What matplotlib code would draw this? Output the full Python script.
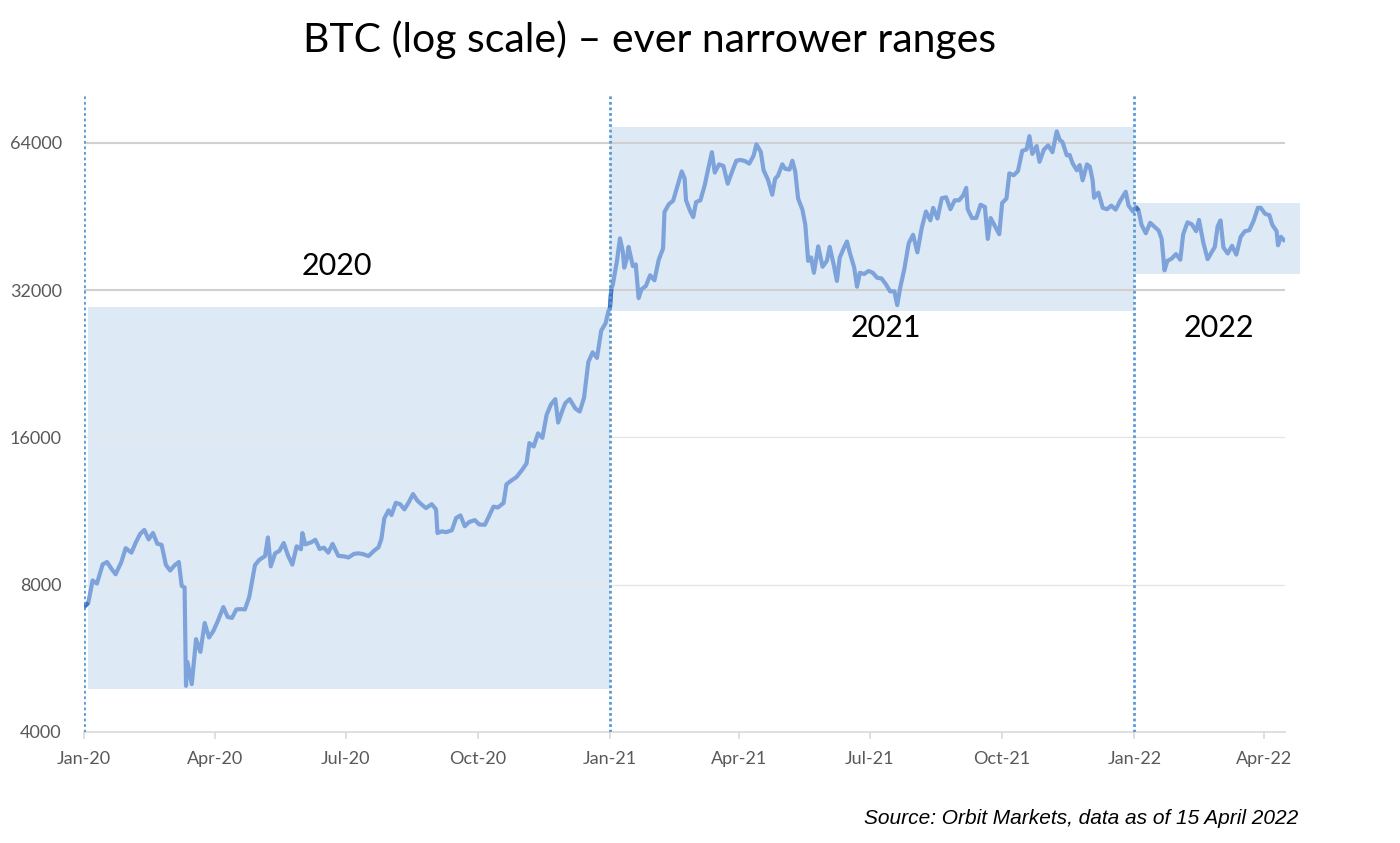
import matplotlib
matplotlib.use("Agg")
import matplotlib.pyplot as plt
import matplotlib.dates as mdates
from matplotlib.patches import Rectangle
from matplotlib.ticker import FixedLocator, FixedFormatter
import numpy as np
import pandas as pd

plt.rcParams['font.family'] = ['Lato', 'DejaVu Sans']

# BTC close (approx.)
dates_2020 = ["2020-01-01", "2020-01-04", "2020-01-07", "2020-01-10", "2020-01-14", "2020-01-17",
              "2020-01-20", "2020-01-23", "2020-01-27", "2020-01-30", "2020-02-03", "2020-02-06",
              "2020-02-09", "2020-02-12", "2020-02-15", "2020-02-18", "2020-02-21", "2020-02-24",
              "2020-02-27", "2020-03-01", "2020-03-04", "2020-03-07", "2020-03-09", "2020-03-11",
              "2020-03-12", "2020-03-13", "2020-03-16", "2020-03-19", "2020-03-22", "2020-03-25",
              "2020-03-28", "2020-03-31", "2020-04-03", "2020-04-07", "2020-04-10", "2020-04-13",
              "2020-04-16", "2020-04-19", "2020-04-22", "2020-04-25", "2020-04-29", "2020-05-02",
              "2020-05-06", "2020-05-08", "2020-05-10", "2020-05-13", "2020-05-16", "2020-05-19",
              "2020-05-22", "2020-05-25", "2020-05-28", "2020-05-31", "2020-06-01", "2020-06-03",
              "2020-06-07", "2020-06-10", "2020-06-13", "2020-06-16", "2020-06-19", "2020-06-22",
              "2020-06-26", "2020-06-30", "2020-07-03", "2020-07-07", "2020-07-10", "2020-07-13",
              "2020-07-17", "2020-07-21", "2020-07-24", "2020-07-26", "2020-07-28", "2020-07-31",
              "2020-08-02", "2020-08-05", "2020-08-08", "2020-08-11", "2020-08-14", "2020-08-17",
              "2020-08-20", "2020-08-23", "2020-08-26", "2020-08-30", "2020-09-02", "2020-09-03",
              "2020-09-06", "2020-09-09", "2020-09-13", "2020-09-16", "2020-09-19", "2020-09-22",
              "2020-09-25", "2020-09-29", "2020-10-02", "2020-10-06", "2020-10-09", "2020-10-12",
              "2020-10-15", "2020-10-19", "2020-10-21", "2020-10-24", "2020-10-28", "2020-11-01",
              "2020-11-04", "2020-11-06", "2020-11-09", "2020-11-12", "2020-11-15", "2020-11-18",
              "2020-11-21", "2020-11-24", "2020-11-26", "2020-11-29", "2020-12-01", "2020-12-04",
              "2020-12-08", "2020-12-11", "2020-12-14", "2020-12-17", "2020-12-20", "2020-12-23",
              "2020-12-26", "2020-12-29", "2020-12-31"]
btc_2020 = [7200, 7350, 8160, 8040, 8800, 8900,
            8630, 8400, 8900, 9500, 9300, 9750,
            10150, 10350, 9900, 10200, 9700, 9650,
            8780, 8550, 8760, 8900, 7950, 7900,
            4970, 5560, 5010, 6190, 5830, 6680,
            6240, 6430, 6730, 7200, 6870, 6840,
            7120, 7130, 7120, 7550, 8770, 8990,
            9150, 9990, 8720, 9270, 9380, 9730,
            9170, 8790, 9580, 9450, 10200, 9670,
            9760, 9880, 9460, 9520, 9300, 9690,
            9160, 9140, 9090, 9250, 9270, 9240,
            9150, 9390, 9540, 9930, 10930, 11350,
            11100, 11760, 11680, 11400, 11790, 12250,
            11880, 11660, 11470, 11680, 11400, 10200,
            10280, 10240, 10330, 10950, 11080, 10530,
            10740, 10840, 10620, 10600, 11060, 11550,
            11500, 11750, 12820, 13030, 13270, 13740,
            14150, 15570, 15320, 16300, 15960, 17800,
            18680, 19150, 17150, 18180, 18800, 19150,
            18320, 18060, 19270, 22800, 23870, 23250,
            26440, 27360, 28990]

dates_2021 = ["2021-01-01", "2021-01-02", "2021-01-03", "2021-01-06", "2021-01-08", "2021-01-10",
              "2021-01-11", "2021-01-13", "2021-01-14", "2021-01-17", "2021-01-19", "2021-01-21",
              "2021-01-23", "2021-01-26", "2021-01-29", "2021-02-01", "2021-02-04", "2021-02-07",
              "2021-02-08", "2021-02-11", "2021-02-14", "2021-02-17", "2021-02-20", "2021-02-22",
              "2021-02-23", "2021-02-26", "2021-02-28", "2021-03-02", "2021-03-05", "2021-03-08",
              "2021-03-10", "2021-03-13", "2021-03-15", "2021-03-18", "2021-03-21", "2021-03-24",
              "2021-03-27", "2021-03-30", "2021-04-02", "2021-04-05", "2021-04-08", "2021-04-11",
              "2021-04-13", "2021-04-16", "2021-04-18", "2021-04-21", "2021-04-24", "2021-04-26",
              "2021-04-28", "2021-05-01", "2021-05-03", "2021-05-06", "2021-05-08", "2021-05-10",
              "2021-05-12", "2021-05-15", "2021-05-17", "2021-05-19", "2021-05-21", "2021-05-23",
              "2021-05-26", "2021-05-29", "2021-06-01", "2021-06-03", "2021-06-06", "2021-06-08",
              "2021-06-10", "2021-06-13", "2021-06-15", "2021-06-17", "2021-06-20", "2021-06-22",
              "2021-06-24", "2021-06-27", "2021-06-30", "2021-07-03", "2021-07-06", "2021-07-09",
              "2021-07-12", "2021-07-15", "2021-07-18", "2021-07-20", "2021-07-22", "2021-07-25",
              "2021-07-28", "2021-07-31", "2021-08-03", "2021-08-06", "2021-08-09", "2021-08-12",
              "2021-08-14", "2021-08-17", "2021-08-20", "2021-08-23", "2021-08-26", "2021-08-29",
              "2021-09-01", "2021-09-04", "2021-09-06", "2021-09-07", "2021-09-10", "2021-09-13",
              "2021-09-16", "2021-09-19", "2021-09-21", "2021-09-23", "2021-09-26", "2021-09-29",
              "2021-10-01", "2021-10-04", "2021-10-06", "2021-10-09", "2021-10-12", "2021-10-15",
              "2021-10-18", "2021-10-20", "2021-10-22", "2021-10-25", "2021-10-27", "2021-10-30",
              "2021-11-02", "2021-11-05", "2021-11-08", "2021-11-10", "2021-11-12", "2021-11-15",
              "2021-11-17", "2021-11-19", "2021-11-22", "2021-11-24", "2021-11-26", "2021-11-29",
              "2021-12-01", "2021-12-03", "2021-12-04", "2021-12-07", "2021-12-10", "2021-12-13",
              "2021-12-16", "2021-12-19", "2021-12-22", "2021-12-26", "2021-12-28", "2021-12-31"]
btc_2021 = [29370, 32130, 32780, 36800, 40800, 38350,
            35550, 37300, 39190, 35800, 36100, 30800,
            32100, 32600, 34300, 33500, 36900, 38900,
            46200, 47900, 48700, 52150, 55900, 54090,
            48800, 46300, 45100, 48400, 48800, 52400,
            55850, 61200, 55600, 57800, 57350, 52770,
            55800, 58800, 59000, 58700, 58000, 60200,
            63500, 61300, 56200, 53800, 50100, 54000,
            54800, 57800, 56600, 56400, 58800, 55900,
            49200, 46700, 43500, 36700, 37300, 34700,
            39300, 35700, 36700, 39200, 35800, 33400,
            37300, 39100, 40200, 38100, 35600, 32500,
            34700, 34500, 35000, 34700, 33900, 33800,
            32900, 31800, 31800, 29800, 32300, 35400,
            39900, 41500, 38200, 42800, 46300, 44400,
            47100, 44800, 49300, 49500, 46800, 48800,
            48800, 50000, 51750, 46800, 44900, 44900,
            47800, 47300, 40700, 44900, 43200, 41600,
            48200, 49200, 55400, 54900, 56000, 61600,
            62000, 66000, 60700, 63000, 58500, 61900,
            63200, 61200, 67500, 64900, 64200, 60300,
            60400, 58100, 56200, 57600, 53600, 57800,
            57200, 53600, 49400, 50600, 47100, 46800,
            47600, 46700, 48600, 50800, 47600, 46300]

dates_2022 = ["2022-01-02", "2022-01-04", "2022-01-06", "2022-01-09", "2022-01-12", "2022-01-15",
              "2022-01-18", "2022-01-20", "2022-01-22", "2022-01-24", "2022-01-27", "2022-01-30",
              "2022-02-02", "2022-02-04", "2022-02-07", "2022-02-10", "2022-02-13", "2022-02-15",
              "2022-02-18", "2022-02-21", "2022-02-24", "2022-02-26", "2022-02-28", "2022-03-02",
              "2022-03-04", "2022-03-07", "2022-03-10", "2022-03-13", "2022-03-16", "2022-03-19",
              "2022-03-22", "2022-03-25", "2022-03-28", "2022-03-30", "2022-04-02", "2022-04-05",
              "2022-04-07", "2022-04-10", "2022-04-11", "2022-04-13", "2022-04-15"]
btc_2022 = [47300, 46500, 43500, 41800, 43900, 43100,
            42300, 40700, 35100, 36700, 37100, 37900,
            36900, 41600, 44000, 43600, 42200, 44500,
            40000, 37000, 38300, 39200, 43200, 44400,
            39100, 38000, 39400, 37800, 41100, 42200,
            42400, 44300, 47100, 47100, 45800, 45500,
            43500, 42200, 39500, 41100, 40500]

years = ["2020", "2021", "2022"]
y_ticks = [4000, 8000, 16000, 32000, 64000]
x_ticks = ["2020-01-01", "2020-04-01", "2020-07-01", "2020-10-01", "2021-01-01", "2021-04-01",
           "2021-07-01", "2021-10-01", "2022-01-01", "2022-04-01"]
x_labels = ["Jan-20", "Apr-20", "Jul-20", "Oct-20", "Jan-21", "Apr-21",
            "Jul-21", "Oct-21", "Jan-22", "Apr-22"]

series = [(pd.to_datetime(dates_2020), btc_2020),
          (pd.to_datetime(dates_2021), btc_2021),
          (pd.to_datetime(dates_2022), btc_2022)]
all_dates = pd.to_datetime(dates_2020 + dates_2021 + dates_2022)
all_btc = btc_2020 + btc_2021 + btc_2022

fig = plt.figure(figsize=(14, 8.43), dpi=100)
ax = fig.add_axes([0.06, 0.1317, 0.858, 0.7553])

line_col = '#7EA3DA'
dark_col = '#4472C4'
box_col = '#BDD7EE'
vline_col = '#5B9BD5'

ax.plot(all_dates, all_btc, color=line_col, lw=3, zorder=4, solid_joinstyle='round')

# year ranges
for i, (d, v) in enumerate(series):
    x0 = mdates.date2num(pd.Timestamp(years[i] + "-01-01"))
    if i < len(series) - 1:
        x1 = mdates.date2num(pd.Timestamp(years[i + 1] + "-01-01"))
    else:
        x1 = mdates.date2num(d[-1]) + 11
    if i == 0:
        x0 = x0 + 3
    lo, hi = min(v) * 0.985, max(v) * 1.02
    ax.add_patch(Rectangle((x0, lo), x1 - x0, hi - lo, facecolor=box_col, alpha=0.5,
                           edgecolor='none', zorder=1, clip_on=False))
    ax.axvline(pd.Timestamp(years[i] + "-01-01"), color=vline_col, ls=(0, (1, 1)), lw=2, zorder=5)
    # first step of each year is drawn darker in the original
    ax.plot(d[:2], v[:2], color=dark_col, lw=3, zorder=4.5, solid_capstyle='butt')

ax.set_yscale('log')
ax.set_ylim(4000, 80000)
ax.set_xlim(all_dates[0], all_dates[-1] + pd.Timedelta(days=1))

ax.yaxis.set_major_locator(FixedLocator(y_ticks))
ax.yaxis.set_major_formatter(FixedFormatter([str(t) for t in y_ticks]))
ax.yaxis.set_minor_locator(FixedLocator([]))
for t in y_ticks[1:]:
    c = '#D0D0D0' if t >= 32000 else '#E6E6E6'
    w = 1.5 if t >= 32000 else 1.0
    ax.axhline(t, color=c, lw=w, zorder=2)

ax.set_xticks(pd.to_datetime(x_ticks))
ax.set_xticklabels(x_labels)

for s in ['top', 'right', 'left']:
    ax.spines[s].set_visible(False)
ax.spines['bottom'].set_color('#D9D9D9')
ax.spines['bottom'].set_linewidth(1.2)
ax.tick_params(axis='y', length=0, pad=16, labelsize=13, labelcolor='#595959')
ax.tick_params(axis='x', length=5, width=1.2, color='#D9D9D9', pad=9, labelsize=13,
               labelcolor='#595959')

fig.text(650 / 1400, 1 - 40 / 843, "BTC (log scale) \u2013 ever narrower ranges",
         ha='center', va='center', fontsize=29.5)
fig.text(337 / 1400, 1 - 266 / 843, "2020", ha='center', va='center', fontsize=22)
fig.text(886 / 1400, 1 - 328 / 843, "2021", ha='center', va='center', fontsize=22)
fig.text(1219 / 1400, 1 - 328 / 843, "2022", ha='center', va='center', fontsize=22)
fig.text(1298 / 1400, 1 - 818 / 843, "Source: Orbit Markets, data as of 15 April 2022",
         ha='right', va='center', fontsize=15, style='italic', family='Liberation Sans')

fig.savefig("out.png", dpi=100)
